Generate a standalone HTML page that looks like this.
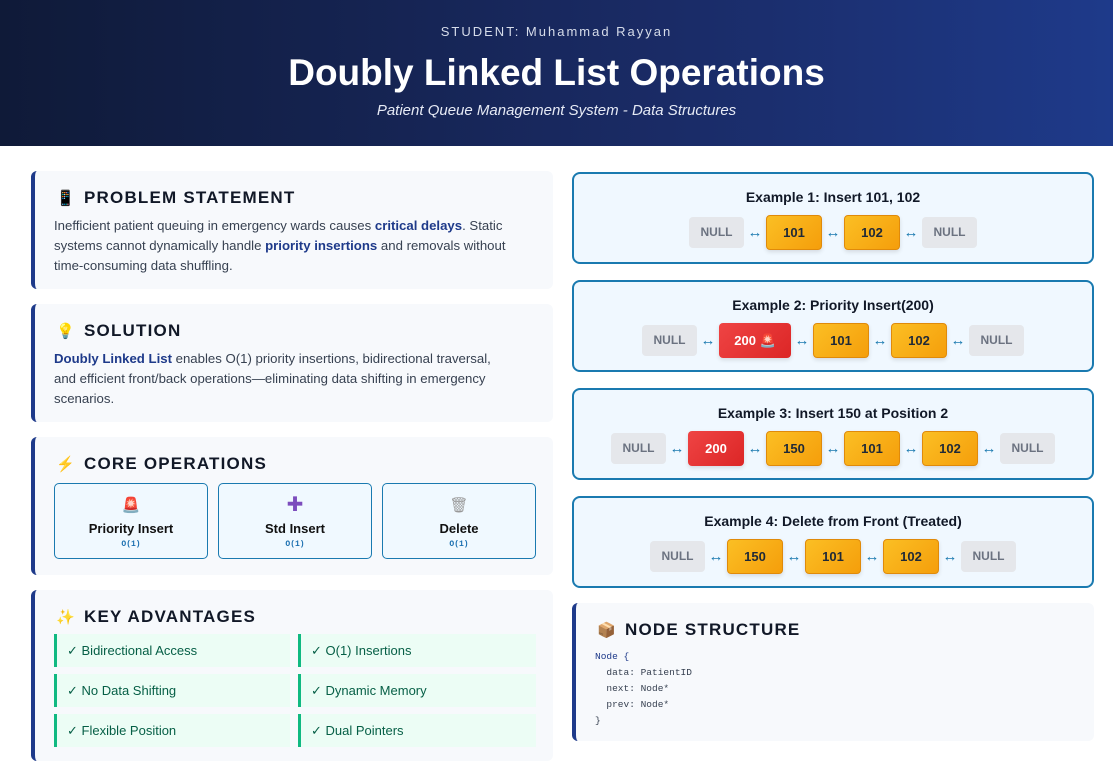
<!DOCTYPE html>
<html><head><meta charset="utf-8"><style>
*{margin:0;padding:0;box-sizing:border-box}
body{width:1113px;height:765px;background:#fff;font-family:"Liberation Sans",sans-serif;position:relative;overflow:hidden}
.hdr{position:absolute;left:0;top:0;width:1113px;height:146px;background:linear-gradient(90deg,#0f1a38,#1a2b66 60%,#1e3a8a);color:#fff;text-align:center}
.hdr .s{position:absolute;top:24px;width:100%;font-size:13px;letter-spacing:2px;color:#d6dcea}
.hdr h1{position:absolute;top:52px;width:100%;font-size:37px;font-weight:bold;letter-spacing:0}
.hdr .sub{position:absolute;top:102px;width:100%;font-size:15px;font-style:italic;color:#e6eaf5}
.card{position:absolute;left:31px;width:522px;background:#f7f9fc;border-left:4px solid #1e3a8a;border-radius:6px;padding:0 0 0 19px}
.card h2{position:absolute;top:17px;left:21px;font-size:17px;font-weight:bold;letter-spacing:1.2px;color:#111827}
.card h2 i{font-style:normal;display:inline-block;width:28px;font-size:15px}
.card p{position:absolute;top:45px;left:19px;width:478px;font-size:13.2px;line-height:20px;color:#374151}
.card b{color:#1e3a8a}
.op{position:absolute;top:46px;width:154px;height:76px;border:1.5px solid #1a7ab0;border-radius:5px;background:#f0f9ff;text-align:center}
.op .ic{position:absolute;top:12px;width:100%;font-size:15px}
.op .l{position:absolute;top:37px;width:100%;font-size:13px;font-weight:bold;color:#111}
.op .o{position:absolute;top:56px;width:100%;font-size:8px;font-family:"Liberation Mono",monospace;color:#1a6fb0;font-weight:bold}
.adv{position:absolute;width:236px;height:33px;background:#ecfdf5;border-left:3px solid #10b981;font-size:13px;color:#065f46;padding:9px 0 0 10px}
.ex{position:absolute;left:572px;width:522px;height:92px;border:2px solid #1a7ab0;border-radius:8px;background:#f0f8ff;text-align:center}
.ex .t{position:absolute;top:15px;width:100%;font-size:14px;font-weight:bold;color:#111827}
.row{position:absolute;top:41px;width:100%;display:flex;justify-content:center;align-items:center}
.n{width:55px;height:31px;background:#e5e7eb;border-radius:4px;color:#6b7280;font-weight:bold;font-size:12px;line-height:31px}
.y{width:56px;height:35px;background:linear-gradient(135deg,#fbbf24,#f59e0b);border:1px solid #e08a0a;border-radius:4px;color:#1f2937;font-weight:bold;font-size:13px;line-height:33px;box-shadow:0 2px 4px rgba(0,0,0,.12)}
.r{width:56px;height:35px;background:linear-gradient(135deg,#ef4444,#dc2626);border-radius:4px;color:#fff;font-weight:bold;font-size:13px;line-height:35px;box-shadow:0 2px 4px rgba(0,0,0,.12)}
.a{width:22px;color:#1a7ab0;font-size:15px;line-height:15px}
pre{position:absolute;top:46px;left:19px;font-family:"Liberation Mono",monospace;font-size:9.5px;line-height:16px;color:#374151}
</style></head><body>
<div class="hdr"><div class="s">STUDENT: Muhammad Rayyan</div><h1>Doubly Linked List Operations</h1><div class="sub">Patient Queue Management System - Data Structures</div></div>

<div class="card" style="top:171px;height:118px"><h2><i>📱</i>PROBLEM STATEMENT</h2><p>Inefficient patient queuing in emergency wards causes <b>critical delays</b>. Static systems cannot dynamically handle <b>priority insertions</b> and removals without time-consuming data shuffling.</p></div>
<div class="card" style="top:304px;height:118px"><h2><i>💡</i>SOLUTION</h2><p style="width:455px"><b>Doubly Linked List</b> enables O(1) priority insertions, bidirectional traversal, and efficient front/back operations—eliminating data shifting in emergency scenarios.</p></div>
<div class="card" style="top:437px;height:138px"><h2><i style="color:#f97316">⚡</i>CORE OPERATIONS</h2>
<div class="op" style="left:19px"><div class="ic" style="color:#e11d48">🚨</div><div class="l">Priority Insert</div><div class="o">O(1)</div></div>
<div class="op" style="left:183px"><div class="ic" style="color:#7c4dbd;font-size:20px;top:8px">✚</div><div class="l">Std Insert</div><div class="o">O(1)</div></div>
<div class="op" style="left:347px"><div class="ic" style="color:#999">🗑</div><div class="l">Delete</div><div class="o">O(1)</div></div>
</div>
<div class="card" style="top:590px;height:171px"><h2><i style="color:#f59e0b">✨</i>KEY ADVANTAGES</h2>
<div class="adv" style="left:19px;top:44px">✓ Bidirectional Access</div>
<div class="adv" style="left:263px;top:44px;width:238px">✓ O(1) Insertions</div>
<div class="adv" style="left:19px;top:84px">✓ No Data Shifting</div>
<div class="adv" style="left:263px;top:84px;width:238px">✓ Dynamic Memory</div>
<div class="adv" style="left:19px;top:124px">✓ Flexible Position</div>
<div class="adv" style="left:263px;top:124px;width:238px">✓ Dual Pointers</div>
</div>

<div class="ex" style="top:172px"><div class="t">Example 1: Insert 101, 102</div><div class="row"><div class="n">NULL</div><div class="a">↔</div><div class="y">101</div><div class="a">↔</div><div class="y">102</div><div class="a">↔</div><div class="n">NULL</div></div></div>
<div class="ex" style="top:280px"><div class="t">Example 2: Priority Insert(200)</div><div class="row"><div class="n">NULL</div><div class="a">↔</div><div class="r" style="width:72px">200 🚨</div><div class="a">↔</div><div class="y">101</div><div class="a">↔</div><div class="y">102</div><div class="a">↔</div><div class="n">NULL</div></div></div>
<div class="ex" style="top:388px"><div class="t">Example 3: Insert 150 at Position 2</div><div class="row"><div class="n">NULL</div><div class="a">↔</div><div class="r">200</div><div class="a">↔</div><div class="y">150</div><div class="a">↔</div><div class="y">101</div><div class="a">↔</div><div class="y">102</div><div class="a">↔</div><div class="n">NULL</div></div></div>
<div class="ex" style="top:496px"><div class="t">Example 4: Delete from Front (Treated)</div><div class="row"><div class="n">NULL</div><div class="a">↔</div><div class="y">150</div><div class="a">↔</div><div class="y">101</div><div class="a">↔</div><div class="y">102</div><div class="a">↔</div><div class="n">NULL</div></div></div>

<div class="card" style="left:572px;top:603px;height:138px"><h2><i>📦</i>NODE STRUCTURE</h2>
<pre><span style="color:#1e3a8a">Node {</span>
  data: PatientID
  next: Node*
  prev: Node*
}</pre></div>
</body></html>
